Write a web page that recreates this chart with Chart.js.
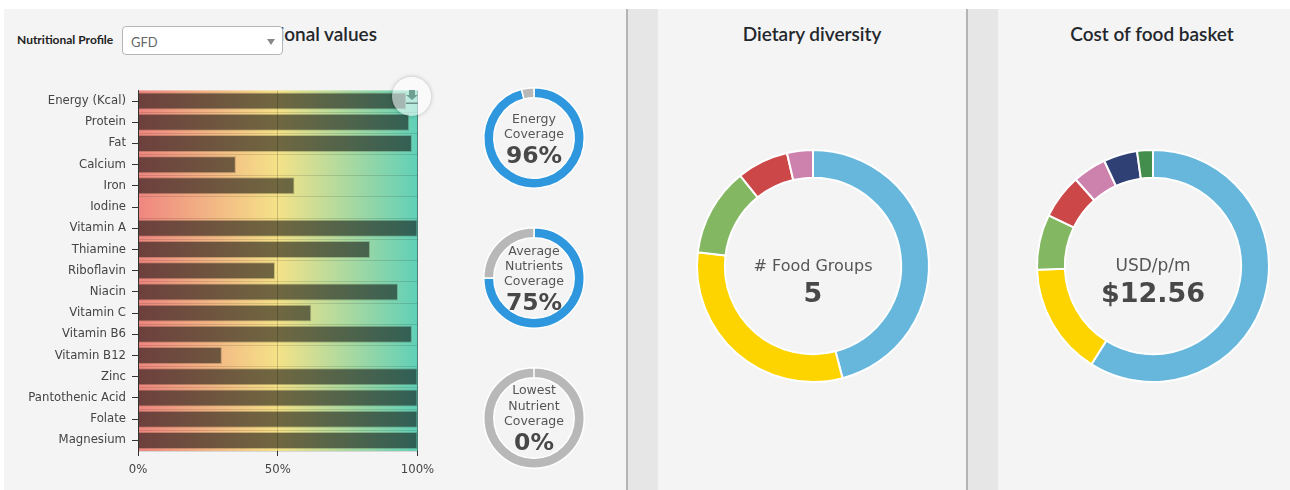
<!DOCTYPE html>
<html>
<head>
<meta charset="utf-8">
<script src="https://cdn.jsdelivr.net/npm/chart.js@4/dist/chart.umd.min.js"></script>
<style>
  html, body { margin: 0; padding: 0; background: #fff; }
  #page { position: relative; width: 1290px; height: 490px; overflow: hidden; background: #fff; }
  .panel { position: absolute; top: 9px; height: 481px; background: #f4f4f4; }
  .gutter { position: absolute; top: 9px; height: 481px; background: #e6e6e6; border-left: 2px solid #b4b4b4; box-sizing: border-box; }
  .title { position: absolute; top: 22px; font: 600 19px Lato, sans-serif; color: #23272b; text-align: center; white-space: nowrap; }
  canvas { position: absolute; }
  #profileLabel { position: absolute; left: 17px; top: 32px; font: 700 12px Lato, sans-serif; color: #222; white-space: nowrap; }
  #profile { position: absolute; left: 122px; top: 26px; width: 161px; height: 29px; box-sizing: border-box; background: #fff;
    border: 1px solid #b5b5b5; border-radius: 4px; font: 13px Lato, sans-serif; color: #666; padding: 7px 0 0 8px; }
  #profile:after { content: ""; position: absolute; right: 7px; top: 12px; border: 4px solid transparent; border-top: 6px solid #888; border-bottom: 0; }
  #download { position: absolute; left: 392px; top: 77px; width: 39px; height: 39px; border-radius: 50%;
    background: rgba(255,255,255,0.55); box-shadow: 0 0 4px rgba(0,0,0,0.25); }
  #download svg { position: absolute; left: 13px; top: 12px; }
</style>
</head>
<body>
<div id="page">
  <div class="panel" style="left:4px;width:622px"></div>
  <div class="gutter" style="left:626px;width:32px"></div>
  <div class="panel" style="left:658px;width:308px"></div>
  <div class="gutter" style="left:966px;width:32px"></div>
  <div class="panel" style="left:998px;width:292px"></div>

  <div class="title" style="left:200px;width:177px;text-align:right">Nutritional values</div>
  <div class="title" style="left:658px;width:308px">Dietary diversity</div>
  <div class="title" style="left:1006px;width:292px">Cost of food basket</div>

  <canvas id="nutrientChart" width="450" height="400" style="left:0;top:80px"></canvas>
  <canvas id="energyChart" width="110" height="110" style="left:479px;top:83px"></canvas>
  <canvas id="averageChart" width="110" height="110" style="left:479px;top:223px"></canvas>
  <canvas id="lowestChart" width="110" height="110" style="left:479px;top:363px"></canvas>
  <canvas id="dietChart" width="250" height="250" style="left:688px;top:141px"></canvas>
  <canvas id="costChart" width="250" height="250" style="left:1028px;top:141px"></canvas>

  <div id="profileLabel">Nutritional Profile</div>
  <div id="profile">GFD</div>
  <div id="download">
    <svg width="14" height="16" viewBox="0 0 14 16">
      <path d="M4 1h6v5h3l-6 5-6-5h3z" fill="#6f9f90"/>
      <rect x="1" y="13.5" width="12" height="1.5" fill="#6f9088"/>
    </svg>
  </div>
</div>

<script>
// nutrient coverage, % of requirement
const nutrients = ['Energy (Kcal)', 'Protein', 'Fat', 'Calcium', 'Iron', 'Iodine', 'Vitamin A', 'Thiamine', 'Riboflavin',
    'Niacin', 'Vitamin C', 'Vitamin B6', 'Vitamin B12', 'Zinc', 'Pantothenic Acid', 'Folate', 'Magnesium'];
const coverage = [96, 97, 98, 35, 56, 0, 100, 83, 49, 93, 62, 98, 30, 100, 100, 100, 100];
const coverageTicks = [0, 50, 100];

const energyCoverage = [96, 4];
const averageCoverage = [75, 25];
const lowestCoverage = [0, 100];

// shares of the ring, clockwise from the top
const foodGroupShares = [45.9, 31, 12.3, 7.2, 3.6];
const basketShares = [58.9, 15.6, 7.7, 6.2, 4.7, 4.7, 2.2];

const amColors = ['#67b7dc', '#fdd400', '#84b761', '#cc4748', '#cd82ad', '#2f4074', '#448e4d'];
const coverageColors = ['#2e97de', '#b8b8b8'];

const labelFont = '"DejaVu Sans", sans-serif';

// Red to green band behind the bars
const gradientBand = {
    id: 'gradientBand',
    beforeDatasetsDraw(chart) {
        const a = chart.chartArea;
        const g = chart.ctx.createLinearGradient(a.left, 0, a.right, 0);
        g.addColorStop(0, '#ef8680');
        g.addColorStop(0.5, '#f5e288');
        g.addColorStop(1, '#60d0b8');
        chart.ctx.save();
        chart.ctx.fillStyle = g;
        chart.ctx.fillRect(a.left, a.top, a.right - a.left, a.bottom - a.top);
        // row lines go on top of the band
        chart.ctx.strokeStyle = 'rgba(0,0,0,0.12)';
        chart.ctx.lineWidth = 1;
        const y = chart.scales.y;
        const band = y.getPixelForValue(1) - y.getPixelForValue(0);
        nutrients.forEach((n, i) => {
            const py = Math.round(y.getPixelForValue(i) + band / 2) + 0.5;
            chart.ctx.beginPath();
            chart.ctx.moveTo(a.left, py);
            chart.ctx.lineTo(a.right, py);
            chart.ctx.stroke();
        });
        chart.ctx.restore();
    }
};

new Chart(document.getElementById('nutrientChart'), {
    type: 'bar',
    plugins: [gradientBand],
    data: {
        labels: nutrients,
        datasets: [{
            data: coverage,
            backgroundColor: 'rgba(10,10,10,0.57)',
            borderColor: 'rgba(60,60,40,0.25)',
            borderWidth: 1,
            barPercentage: 0.8,
            categoryPercentage: 1
        }]
    },
    options: {
        indexAxis: 'y',
        responsive: false,
        animation: false,
        layout: { padding: { top: 10.4, right: 32.5 } },
        plugins: { legend: { display: false }, tooltip: { enabled: false } },
        scales: {
            x: {
                min: 0,
                max: 100,
                afterFit: scale => { scale.height = 29; scale.paddingLeft = 0; scale.paddingRight = 0; },
                afterBuildTicks: scale => { scale.ticks = coverageTicks.map(v => ({ value: v })); },
                border: { display: false },
                grid: {
                    color: c => c.tick.value === 50 ? 'rgba(0,0,0,0.18)' : (c.tick.value === 100 ? 'rgba(0,50,40,0.55)' : '#333'),
                    tickColor: '#333',
                    tickLength: 5,
                    z: 1
                },
                ticks: {
                    callback: v => v + '%',
                    color: '#444',
                    maxRotation: 0,
                    padding: 7,
                    font: { family: labelFont, size: 11.7 }
                }
            },
            y: {
                afterFit: scale => { scale.width = 138; scale.paddingTop = 0; scale.paddingBottom = 0; },
                border: { color: '#333' },
                grid: { display: true, drawOnChartArea: false, tickColor: '#333', tickLength: 6, offset: false },
                ticks: {
                    color: '#444',
                    autoSkip: false,
                    padding: 6,
                    font: { family: labelFont, size: 11.7 }
                }
            }
        }
    }
});

// Text in the hole of a ring, one entry per line
const centerText = {
    id: 'centerText',
    afterDraw(chart, args, opts) {
        const ctx = chart.ctx;
        const a = chart.chartArea;
        const cx = (a.left + a.right) / 2;
        ctx.save();
        ctx.textAlign = 'center';
        ctx.textBaseline = 'middle';
        opts.lines.forEach(line => {
            ctx.font = (line.bold ? 'bold ' : '') + line.size + 'px ' + labelFont;
            ctx.fillStyle = line.bold ? '#484848' : '#555';
            ctx.fillText(line.text, cx, (a.top + a.bottom) / 2 + line.dy);
        });
        ctx.restore();
    }
};

function renderRing(id, values, colors, cutout, lines, borderWidth, padding) {
    new Chart(document.getElementById(id), {
        type: 'doughnut',
        plugins: [centerText],
        data: {
            datasets: [{ data: values, backgroundColor: colors, borderColor: '#ffffff', borderWidth: borderWidth }]
        },
        options: {
            responsive: false,
            animation: false,
            cutout: cutout,
            layout: { padding: padding },
            plugins: { legend: { display: false }, tooltip: { enabled: false }, centerText: { lines: lines } }
        }
    });
}

renderRing('energyChart', energyCoverage, coverageColors, '80%', [
    { text: 'Energy', size: 12.5, dy: -18 },
    { text: 'Coverage', size: 12.5, dy: -3 },
    { text: '96%', size: 23.5, bold: true, dy: 19 }
], 1.5, 4);
renderRing('averageChart', averageCoverage, coverageColors, '80%', [
    { text: 'Average', size: 12.5, dy: -26 },
    { text: 'Nutrients', size: 12.5, dy: -11 },
    { text: 'Coverage', size: 12.5, dy: 4 },
    { text: '75%', size: 23.5, bold: true, dy: 26 }
], 1.5, 4);
renderRing('lowestChart', lowestCoverage, coverageColors, '80%', [
    { text: 'Lowest', size: 12.5, dy: -27 },
    { text: 'Nutrient', size: 12.5, dy: -11 },
    { text: 'Coverage', size: 12.5, dy: 4 },
    { text: '0%', size: 23.5, bold: true, dy: 26 }
], 1.5, 4);
renderRing('dietChart', foodGroupShares, amColors, '76%', [
    { text: '# Food Groups', size: 16, dy: 1 },
    { text: '5', size: 27, bold: true, dy: 29 }
], 2, 8);
renderRing('costChart', basketShares, amColors, '76%', [
    { text: 'USD/p/m', size: 17, dy: 1 },
    { text: '$12.56', size: 27, bold: true, dy: 29 }
], 2, 8);
</script>
</body>
</html>
